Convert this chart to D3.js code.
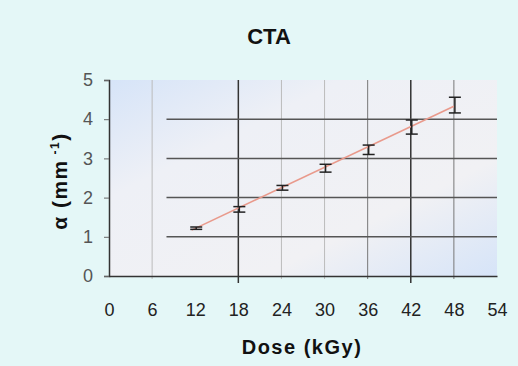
<!DOCTYPE html>
<html>
<head>
<meta charset="utf-8">
<script src="https://cdn.jsdelivr.net/npm/d3@7"></script>
<style>
  body { margin: 0; background: #e4f7f7; }
  svg { display: block; font-family: "Liberation Sans", Arial, sans-serif; }
</style>
</head>
<body>
<div id="chart"></div>
<script>
// data
const doses = [12, 18, 24, 30, 36, 42, 48];
const alphaValues = [1.22, 1.7, 2.25, 2.75, 3.22, 3.8, 4.36];
const alphaErrors = [0.03, 0.07, 0.06, 0.1, 0.12, 0.18, 0.2];
const fitDoses = [11.5, 48];
const fitValues = [1.17, 4.33];
const xTicks = [0, 6, 12, 18, 24, 30, 36, 42, 48, 54];
const yTicks = [0, 1, 2, 3, 4, 5];
const vGrid = [6, 18, 24, 30, 36, 42, 48];
const hGrid = [1, 2, 3, 4];

const width = 518, height = 366;
const margin = { top: 80, right: 21, bottom: 90, left: 109 };

const svg = d3.select("#chart").append("svg")
  .attr("width", width)
  .attr("height", height);

const x = d3.scaleLinear().domain([0, 54]).range([margin.left, width - margin.right]);
const y = d3.scaleLinear().domain([0, 5]).range([height - margin.bottom, margin.top]);

// plot background with bluish corners
const grad = svg.append("defs").append("linearGradient")
  .attr("id", "bg").attr("x1", "0").attr("y1", "0").attr("x2", "1").attr("y2", "1");
grad.append("stop").attr("offset", "0%").attr("stop-color", "#d6e4f8");
grad.append("stop").attr("offset", "30%").attr("stop-color", "#eef0f6");
grad.append("stop").attr("offset", "70%").attr("stop-color", "#f1f1f4");
grad.append("stop").attr("offset", "100%").attr("stop-color", "#d6e4f8");

svg.append("rect")
  .attr("x", x(0)).attr("y", y(5))
  .attr("width", x(54) - x(0)).attr("height", y(0) - y(5))
  .attr("fill", "url(#bg)");

// grid
const dark = d => d === 18 || d === 42;
const vStroke = d => dark(d) ? "#333" : (d === 36 || d === 48) ? "#777" : "#bbb";
svg.append("g").selectAll("line").data(vGrid).join("line")
  .attr("x1", d => x(d)).attr("x2", d => x(d))
  .attr("y1", y(5)).attr("y2", d => dark(d) ? y(0) + 7 : y(0) + 3)
  .attr("stroke", vStroke)
  .attr("stroke-width", d => dark(d) ? 1.5 : 1);

svg.append("g").selectAll("line").data(hGrid).join("line")
  .attr("x1", x(8)).attr("x2", x(54))
  .attr("y1", d => y(d)).attr("y2", d => y(d))
  .attr("stroke", "#555")
  .attr("stroke-width", 1.5);

// axes
const yAxis = svg.append("g")
  .attr("transform", `translate(${x(0)},0)`)
  .call(d3.axisLeft(y).tickValues(yTicks).tickFormat(d3.format("d")).tickSize(5).tickPadding(11));
const xAxis = svg.append("g")
  .attr("transform", `translate(0,${y(0)})`)
  .call(d3.axisBottom(x).tickValues(xTicks).tickFormat(d3.format("d")).tickSize(0).tickPadding(27));

[xAxis, yAxis].forEach(g => {
  g.select(".domain").attr("stroke", "#333").attr("stroke-width", 1.5);
  g.selectAll(".tick line").attr("stroke", "#666");
  g.selectAll("text").attr("font-size", 18).attr("fill", "#222")
    .attr("font-family", "'Liberation Sans', Arial, sans-serif");
});
yAxis.selectAll("text").attr("fill", "#555");

// fit line
svg.append("path")
  .datum(fitDoses.map((d, i) => [d, fitValues[i]]))
  .attr("fill", "none")
  .attr("stroke", "#e99a8c")
  .attr("stroke-width", 1.6)
  .attr("d", d3.line().x(d => x(d[0])).y(d => y(d[1])));

// error bars
const pts = doses.map((d, i) => ({ d, v: alphaValues[i], e: alphaErrors[i] }));
const eb = svg.append("g").attr("stroke", "#222").attr("stroke-width", 1.5);
eb.selectAll(".stem").data(pts).join("line")
  .attr("x1", p => x(p.d) + 1).attr("x2", p => x(p.d) + 1)
  .attr("y1", p => y(p.v - p.e)).attr("y2", p => y(p.v + p.e));
eb.selectAll(".cap-top").data(pts).join("line")
  .attr("x1", p => x(p.d) - 5).attr("x2", p => x(p.d) + 7)
  .attr("y1", p => y(p.v + p.e)).attr("y2", p => y(p.v + p.e));
eb.selectAll(".cap-bot").data(pts).join("line")
  .attr("x1", p => x(p.d) - 5).attr("x2", p => x(p.d) + 7)
  .attr("y1", p => y(p.v - p.e)).attr("y2", p => y(p.v - p.e));

// labels
svg.append("text")
  .attr("x", 269).attr("y", 44)
  .attr("text-anchor", "middle")
  .attr("font-size", 22).attr("font-weight", "bold").attr("fill", "#111")
  .text("CTA");

svg.append("text")
  .attr("x", 302).attr("y", 354)
  .attr("text-anchor", "middle")
  .attr("font-size", 20).attr("font-weight", "bold").attr("fill", "#111")
  .attr("letter-spacing", 1.5)
  .text("Dose (kGy)");

const yl = svg.append("text")
  .attr("transform", `translate(67,${(y(0) + y(5)) / 2 + 3}) rotate(-90)`)
  .attr("text-anchor", "middle")
  .attr("font-size", 21).attr("font-weight", "bold").attr("fill", "#111")
  .attr("letter-spacing", 1.5);
yl.append("tspan").text("α (mm");
yl.append("tspan").attr("font-size", 12).attr("dy", -8).text(" -1");
yl.append("tspan").attr("dy", 8).text(")");
</script>
</body>
</html>
